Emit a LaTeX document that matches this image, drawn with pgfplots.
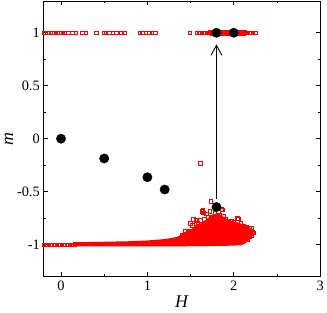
\documentclass[border=0pt]{standalone}
\usepackage{fontspec}
\setmainfont{Liberation Serif}
\usepackage{pgfplots}
\pgfplotsset{compat=1.18}
\usetikzlibrary{arrows.meta}
\begin{document}
\begin{tikzpicture}
\begin{axis}[
  scale only axis, width=278bp, height=277bp,
  xmin=-0.2, xmax=3, ymin=-1.3, ymax=1.3,
  xtick={0,1,2,3}, minor x tick num=1,
  ytick={-1,-0.5,0,0.5,1}, minor y tick num=1,
  tick align=inside, major tick length=4bp, minor tick length=2bp,
  axis line style={line width=0.9bp}, every tick/.style={black, line width=0.8bp},
  /pgf/number format/assume math mode=true,
  tick label style={font=\fontsize{14.5}{16}\selectfont},
  yticklabel style={xshift=-0.5bp},
  xticklabel style={yshift=-1bp},
  label style={font=\fontsize{18}{20}\selectfont},
  xlabel={\textit{H}}, ylabel={\textit{m}},
  xlabel style={at={(axis description cs:0.5,0)}, anchor=center, yshift=-25.5bp},
  ylabel style={at={(axis description cs:0,0.5)}, anchor=center, yshift=35bp, inner sep=0pt},
  clip=false,
]
% dense core of the cloud
\addplot[fill=red, draw=red, line width=3.6bp, line join=round] coordinates {
(0.15,-0.995)(0.5,-0.99)(0.8,-0.985)(1.0,-0.978)(1.2,-0.965)(1.3,-0.952)(1.36,-0.94)
(1.42,-0.91)(1.47,-0.885)(1.52,-0.87)(1.57,-0.85)(1.62,-0.82)(1.67,-0.79)(1.72,-0.76)
(1.77,-0.73)(1.81,-0.72)(1.85,-0.74)(1.9,-0.77)(1.95,-0.785)(2.0,-0.80)(2.05,-0.81)
(2.1,-0.825)(2.15,-0.84)(2.2,-0.87)(2.21,-0.9)(2.17,-0.94)(2.13,-0.97)(2.08,-0.99)
(1.9,-0.995)(1.6,-0.998)(1.2,-1.0)(0.7,-1.0)(0.15,-1.0)(0.15,-0.995)};
% red squares
\addplot[only marks, mark=square, mark size=1.8bp, red, mark options={line width=0.6bp}] coordinates {
(-0.2,1)(-0.18,1)(-0.16,1)(-0.14,1)(-0.12,1)(-0.10,1)(-0.08,1)(-0.06,1)(-0.04,1)(-0.02,1)(0.0,1)(0.02,1)(0.035,1)
(0.085,1)(0.13,1)(0.17,1)(0.245,1)(0.285,1)(0.41,1)(0.50,1)(0.52,1)(0.56,1)(0.60,1)(0.64,1)(0.69,1)(0.74,1)
(0.91,1)(0.94,1)(0.98,1)(1.02,1)(1.05,1)(1.09,1)(1.49,1)(1.57,1)(1.60,1)(1.63,1)(1.66,1)(1.69,1)
(1.72,1)(1.74,1)(1.76,1)(1.78,1)(1.80,1)(1.82,1)(1.84,1)(1.86,1)(1.88,1)(1.90,1)(1.92,1)(1.94,1)(1.96,1)
(1.98,1)(2.0,1)(2.02,1)(2.04,1)(2.06,1)(2.08,1)(2.10,1)(2.12,1)(2.14,1)(2.16,1)(2.19,1)(2.22,1)(2.25,1)
(1.73,1.005)(1.75,0.995)(1.77,1.005)(1.79,0.995)(1.81,1.005)(1.83,0.995)(1.85,1.005)(1.87,0.995)(1.89,1.005)(1.91,0.995)(1.93,1.005)
(1.95,0.995)(1.97,1.005)(1.99,0.995)(2.01,1.005)(2.03,0.995)(2.05,1.005)(2.07,0.995)(2.09,1.005)(2.11,0.995)(2.13,1.005)
(-0.2,-1)(-0.17,-1)(-0.14,-1)(-0.11,-1)(-0.08,-1)(-0.05,-1)(-0.02,-1)(0.01,-1)(0.04,-1)(0.07,-1)(0.10,-1)(0.13,-1)(0.16,-0.997)
(1.734,-0.593)(1.641,-0.678)(1.645,-0.70)(1.722,-0.684)(1.861,-0.669)(1.745,-0.74)(1.88,-0.734)(1.903,-0.759)
(1.969,-0.777)(2.045,-0.749)(2.055,-0.758)(1.534,-0.763)(1.561,-0.768)(1.615,-0.772)(1.499,-0.80)(1.584,-0.796)
(1.638,-0.824)(1.688,-0.819)(1.476,-0.869)(1.546,-0.856)(1.592,-0.847)(2.111,-0.824)(2.18,-0.843)(2.2,-0.843)
(2.226,-0.887)(2.18,-0.922)(2.13,-0.835)(2.09,-0.866)(1.837,-0.718)(1.94,-0.819)(1.63,-0.687)(1.87,-0.67)
(2.215,-0.88)(2.04,-0.75)(1.61,-0.23)(1.68,-0.71)(1.70,-0.745)(1.78,-0.70)(1.82,-0.69)(1.66,-0.76)(1.58,-0.83)
(1.52,-0.82)(1.44,-0.87)(1.40,-0.91)(2.0,-0.79)(2.08,-0.80)(2.15,-0.83)(2.2,-0.91)(2.16,-0.95)
};
% black dots
\addplot[only marks, mark=*, mark size=4.7bp, black] coordinates {
(0,0)(0.5,-0.187)(1.0,-0.364)(1.2,-0.48)(1.8,-0.645)(1.8,1)(2.0,1)};
\draw[line width=0.9bp, -{Straight Barb[length=10bp,width=11bp,line width=0.9bp]}] (axis cs:1.8,-0.565) -- (axis cs:1.8,0.89);
\end{axis}
\path (current axis.south west) ++(-44bp,-36bp) coordinate (bl);
\path (current axis.north east) ++(5bp,1bp) coordinate (tr);
\useasboundingbox (bl) rectangle (tr);
\end{tikzpicture}
\end{document}
